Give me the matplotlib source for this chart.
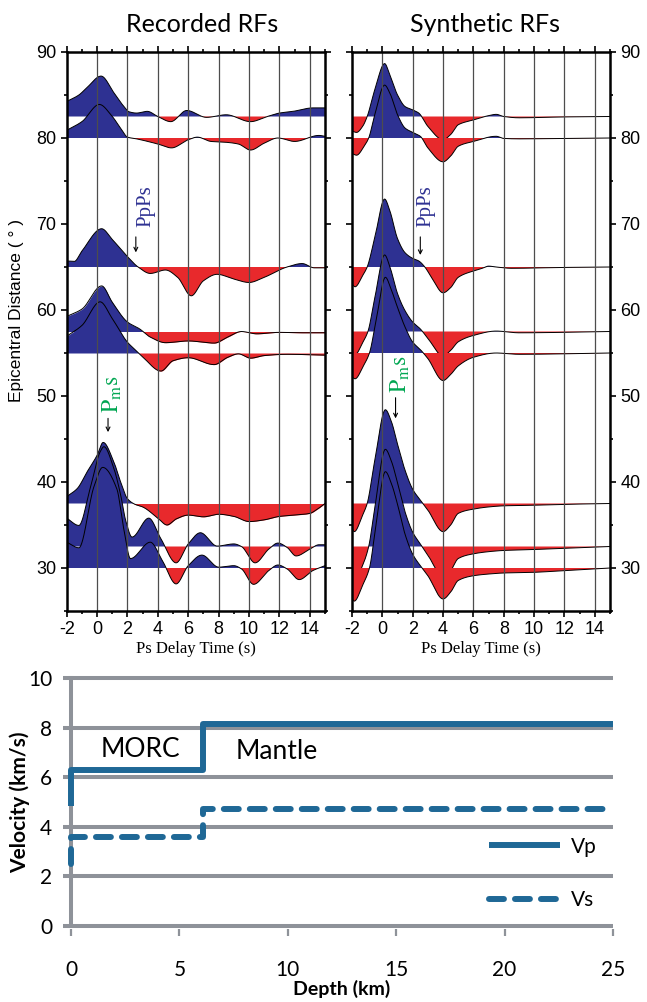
import numpy as np
import matplotlib.pyplot as plt
from matplotlib.ticker import MultipleLocator

# ---- receiver functions: key points (delay time s, amplitude in deg) ----
# recorded
rec_825_t = [-2, -1.2, -0.7, 0.26, 1.13, 1.68, 2.1, 2.6, 3.3, 4.0, 4.85, 5.9, 7.2, 8.5, 10.1, 11.2, 12.0, 12.9, 14.2, 15.0]
rec_825_a = [1.75, 2.5, 3.3, 4.7, 2.7, 1.35, 0.55, 0.4, 0.6, 0.0, -0.6, 0.7, -0.1, 0.2, -0.6, 0.0, 0.4, 0.6, 1.0, 1.0]
rec_80_t = [-2, -1, 0.15, 1.0, 1.6, 2.0, 2.6, 4.0, 4.9, 6.0, 6.6, 7.5, 8.5, 9.3, 10.1, 11.0, 11.9, 13.0, 14.6, 15.0]
rec_80_a = [0.9, 1.9, 3.9, 2.5, 1.0, 0.1, -0.1, -0.7, -1.15, -0.2, 0.1, -0.4, -0.5, -0.7, -1.4, -0.6, 0.0, -0.4, 0.3, 0.2]
rec_65_t = [-2, -1.5, -1.0, 0.3, 1.0, 2.0, 2.7, 3.5, 4.5, 5.3, 6.2, 7.0, 7.9, 9.0, 10.0, 11.0, 12.5, 13.5, 14.3, 15.0]
rec_65_a = [0.7, 0.65, 1.85, 4.45, 3.2, 1.2, 0.0, -0.75, -0.35, -1.2, -3.35, -1.6, -0.85, -1.4, -1.8, -1.2, 0.0, 0.4, -0.1, -0.1]
rec_575_t = [-2, -1, 0.3, 1.0, 2.0, 2.8, 3.5, 4.5, 6.0, 7.7, 8.6, 9.5, 10.5, 12.0, 13.5, 15.0]
rec_575_a = [1.75, 2.6, 5.3, 3.4, 1.1, 0.3, -0.65, -1.3, -1.1, -1.35, -0.65, 0.0, -0.27, -0.1, -0.15, -0.15]
rec_55_t = [-2, -1, 0.2, 1.0, 2.0, 2.5, 3.0, 4.2, 5.0, 6.0, 7.7, 8.6, 9.3, 10.1, 11.0, 12.5, 15.0]
rec_55_a = [1.95, 3.2, 5.95, 4.0, 1.25, 0.4, -0.45, -2.1, -0.9, -0.55, -1.35, -0.5, -0.1, -0.6, -0.3, -0.15, -0.25]
rec_375_t = [-2, -1.3, -0.65, 0.0, 0.4, 1.1, 1.55, 2.0, 2.5, 3.0, 4.0, 4.6, 5.2, 6.0, 7.0, 8.0, 9.0, 10.0, 11.0, 12.0, 13.0, 14.0, 14.5, 15.0]
rec_375_a = [0.8, 1.75, 3.7, 5.6, 7.1, 4.85, 2.5, 0.55, -0.1, -0.4, -1.7, -2.5, -1.8, -1.35, -1.55, -1.25, -1.5, -2.1, -1.9, -1.5, -1.35, -1.15, -0.65, 0.0]
rec_325_t = [-2, -1.2, -0.45, 0.2, 0.45, 1.1, 1.55, 1.9, 2.3, 3.4, 4.2, 5.2, 6.0, 6.8, 7.9, 9.0, 9.5, 10.4, 11.3, 11.9, 12.5, 13.1, 14.0, 14.6, 15.0]
rec_325_a = [3.3, 2.45, 6.8, 11.0, 11.6, 9.1, 6.0, 2.9, 1.1, 3.3, 0.9, -1.9, 0.3, 1.6, 0.05, 0.3, 0.0, -1.9, -0.3, 0.4, -0.1, -1.1, -0.3, 0.2, 0.2]
rec_30_t = [-2, -1.2, -0.2, 0.37, 1.3, 1.75, 2.2, 3.5, 4.3, 5.2, 6.0, 6.9, 8.0, 9.0, 9.5, 10.3, 11.3, 11.9, 12.5, 13.3, 14.2, 15.0]
rec_30_a = [3.0, 2.35, 9.5, 11.7, 9.2, 4.6, 1.1, 3.0, 0.85, -1.85, 0.27, 1.5, 0.1, 0.27, -0.1, -1.9, -0.3, 0.35, -0.1, -1.35, -0.3, 0.27]

# synthetic
syn_825_t = [-2, -1.7, -1.3, -1.0, -0.5, 0.15, 0.5, 1.0, 1.5, 2.0, 2.4, 3.0, 4.0, 4.5, 5.0, 6.0, 7.0, 7.5, 8.0, 9.0, 12.0, 15.0]
syn_825_a = [-1.7, -1.85, -1.15, 0.0, 3.1, 6.15, 4.8, 2.5, 1.15, 0.77, 0.4, -1.15, -2.7, -2.1, -0.96, -0.4, 0.1, 0.25, 0.0, -0.15, -0.05, 0.0]
syn_80_t = [-2, -1.7, -1.2, -0.9, -0.5, 0.15, 0.5, 1.0, 1.5, 2.0, 2.5, 3.0, 4.0, 4.5, 5.0, 6.0, 7.5, 8.0, 9.0, 12.0, 15.0]
syn_80_a = [-1.8, -2.0, -0.96, 0.0, 2.7, 6.15, 5.2, 2.7, 1.15, 0.65, 0.2, -1.15, -2.77, -2.1, -0.96, -0.4, 0.2, -0.05, -0.1, -0.05, 0.0]
syn_65_t = [-2, -1.8, -1.3, -1.0, -0.5, 0.15, 0.5, 1.0, 1.5, 2.0, 2.4, 2.8, 3.3, 4.0, 4.5, 5.0, 6.0, 6.5, 7.0, 7.5, 8.5, 12.0, 15.0]
syn_65_a = [-2.0, -2.3, -1.0, 0.0, 3.4, 7.9, 6.5, 3.3, 1.65, 1.0, 0.7, 0.0, -1.4, -3.0, -2.4, -1.2, -0.46, -0.2, 0.1, 0.0, -0.15, -0.05, 0.0]
syn_575_t = [-2, -1.8, -1.3, -0.95, -0.5, 0.15, 0.5, 1.0, 1.5, 2.0, 2.5, 3.0, 4.0, 4.5, 5.0, 6.0, 7.5, 9.0, 15.0]
syn_575_a = [-2.4, -2.7, -1.3, 0.0, 3.9, 8.9, 7.5, 4.4, 2.4, 1.1, 0.3, -0.8, -2.85, -2.2, -1.2, -0.46, 0.05, -0.15, 0.0]
syn_55_t = [-2, -1.8, -1.25, -0.85, -0.4, 0.2, 0.6, 1.0, 1.5, 2.0, 2.5, 3.0, 4.0, 4.5, 5.0, 6.0, 7.5, 9.0, 15.0]
syn_55_a = [-2.8, -3.0, -1.5, 0.0, 3.9, 8.8, 7.3, 5.3, 3.0, 1.27, 0.4, -0.65, -3.2, -2.5, -1.5, -0.5, 0.0, -0.15, 0.0]
syn_375_t = [-2, -1.85, -1.3, -1.0, -0.5, 0.2, 0.6, 1.0, 1.5, 2.0, 2.5, 3.0, 4.0, 4.5, 5.0, 6.0, 7.0, 8.0, 10.0, 12.0, 15.0]
syn_375_a = [-2.9, -3.27, -1.35, 0.0, 5.0, 10.9, 9.5, 6.9, 3.85, 1.65, 0.4, -0.77, -3.27, -2.5, -1.15, -0.65, -0.4, -0.27, -0.2, -0.1, 0.0]
syn_325_t = [-2, -1.8, -1.3, -0.9, -0.5, 0.2, 0.6, 1.0, 1.5, 2.0, 2.5, 3.0, 4.0, 4.5, 5.0, 6.0, 7.0, 8.0, 10.0, 12.0, 15.0]
syn_325_a = [-3.5, -3.8, -2.2, 0.0, 4.5, 11.3, 9.9, 7.4, 4.0, 1.65, 0.3, -1.0, -3.5, -2.8, -1.4, -0.85, -0.6, -0.46, -0.35, -0.2, 0.0]
syn_30_t = [-2, -1.85, -1.3, -0.85, -0.45, 0.2, 0.6, 1.0, 1.5, 2.0, 2.5, 3.0, 4.0, 4.5, 5.0, 6.0, 7.0, 8.0, 10.0, 12.0, 14.0, 15.0]
syn_30_a = [-3.6, -3.85, -2.0, 0.0, 4.6, 11.2, 9.8, 7.4, 3.9, 1.6, 0.27, -0.9, -3.6, -2.8, -1.45, -0.9, -0.7, -0.58, -0.5, -0.3, -0.1, 0.0]

baselines = [82.5, 80, 65, 57.5, 55, 37.5, 32.5, 30]
recorded = [(rec_825_t, rec_825_a), (rec_80_t, rec_80_a), (rec_65_t, rec_65_a), (rec_575_t, rec_575_a),
            (rec_55_t, rec_55_a), (rec_375_t, rec_375_a), (rec_325_t, rec_325_a), (rec_30_t, rec_30_a)]
synthetic = [(syn_825_t, syn_825_a), (syn_80_t, syn_80_a), (syn_65_t, syn_65_a), (syn_575_t, syn_575_a),
             (syn_55_t, syn_55_a), (syn_375_t, syn_375_a), (syn_325_t, syn_325_a), (syn_30_t, syn_30_a)]

# ---- velocity model ----
vp_depth = [0, 0, 6.1, 6.1, 25]
vp_vel = [4.85, 6.3, 6.3, 8.15, 8.15]
vs_depth = [0, 0, 6.1, 6.1, 25]
vs_vel = [2.5, 3.6, 3.6, 4.72, 4.72]

BLUE = '#2e3192'
RED = '#e8292c'
GREEN = '#00a651'
GRAY = '#8e9299'
VEL = '#1f6896'


def smooth(t, a, tt):
    """monotone cubic (pchip) through the picked points, only for drawing"""
    t = np.asarray(t, float)
    a = np.asarray(a, float)
    h = np.diff(t)
    d = np.diff(a) / h
    m = np.zeros_like(a)
    for k in range(1, len(t) - 1):
        if d[k - 1] * d[k] > 0:
            w1 = 2 * h[k] + h[k - 1]
            w2 = h[k] + 2 * h[k - 1]
            m[k] = (w1 + w2) / (w1 / d[k - 1] + w2 / d[k])
    m[0] = d[0]
    m[-1] = d[-1]
    i = np.clip(np.searchsorted(t, tt) - 1, 0, len(t) - 2)
    s = (tt - t[i]) / h[i]
    return ((2 * s**3 - 3 * s**2 + 1) * a[i] + (s**3 - 2 * s**2 + s) * h[i] * m[i]
            + (-2 * s**3 + 3 * s**2) * a[i + 1] + (s**3 - s**2) * h[i] * m[i + 1])


def rf_panel(ax, traces, right_labels):
    tt = np.linspace(-2, 15, 1500)
    for n, ((t, a), base) in enumerate(zip(traces, baselines)):
        yy = base + smooth(t, a, tt)
        z = 2 + n
        ax.fill_between(tt, base, yy, where=yy >= base, interpolate=True, color=BLUE, lw=0, zorder=z)
        ax.fill_between(tt, base, yy, where=yy <= base, interpolate=True, color=RED, lw=0, zorder=z)
        ax.plot(tt, yy, color='k', lw=0.7, zorder=z + 0.5)
    for x in range(0, 15, 2):
        ax.axvline(x, color='0.3', lw=0.9, zorder=40)
    ax.set_xlim(-2, 15)
    ax.set_ylim(25, 90)
    ax.xaxis.set_major_locator(MultipleLocator(2))
    ax.xaxis.set_minor_locator(MultipleLocator(1))
    ax.yaxis.set_major_locator(MultipleLocator(10))
    ax.yaxis.set_minor_locator(MultipleLocator(5))
    ax.tick_params(which='both', direction='out', top=True, right=True, width=1.2,
                   labelsize=13, pad=3)
    ax.tick_params(which='major', length=4.5)
    ax.tick_params(which='minor', length=2.5)
    if right_labels:
        ax.tick_params(axis='y', labelleft=False, labelright=True)
    for lab in ax.get_xticklabels() + ax.get_yticklabels():
        lab.set_fontfamily('Liberation Sans')
    for sp in ax.spines.values():
        sp.set_linewidth(1.8)
        sp.set_zorder(50)
    ax.set_xlabel('Ps Delay Time (s)', fontfamily='Liberation Serif', fontsize=12, labelpad=2)


def phase_label(ax, t_txt, y_txt, t_arr, y0, y1, txt, color, size):
    ax.text(t_txt, y_txt, txt, rotation=90, color=color, fontsize=size, ha='center', va='bottom',
            fontfamily='Liberation Serif', zorder=60)
    ax.annotate('', xy=(t_arr, y1), xytext=(t_arr, y0),
                arrowprops=dict(arrowstyle='->', lw=0.8, color='k', shrinkA=0, shrinkB=0,
                                mutation_scale=7), zorder=60)


plt.rcParams['mathtext.fontset'] = 'stix'
plt.rcParams['axes.unicode_minus'] = False
fig = plt.figure(figsize=(6.47, 10.02), dpi=100)
W, H = 647.0, 1002.0

ax1 = fig.add_axes([66.7 / W, 1 - 611 / H, (325 - 66.7) / W, (611 - 52) / H])
ax2 = fig.add_axes([352 / W, 1 - 611 / H, (610 - 352) / W, (611 - 52) / H])
rf_panel(ax1, recorded, False)
rf_panel(ax2, synthetic, True)

phase_label(ax1, 3.2, 69.6, 2.55, 68.5, 66.7, 'PpPs', BLUE, 15)
phase_label(ax2, 2.85, 69.6, 2.5, 68.5, 66.4, 'PpPs', BLUE, 15)
phase_label(ax1, 0.98, 48.0, 0.72, 47.4, 45.8, r'$\mathrm{P_{m}s}$', GREEN, 17)
phase_label(ax2, 1.2, 50.4, 0.87, 49.8, 47.4, r'$\mathrm{P_{m}s}$', GREEN, 17)

fig.text(202 / W, 1 - 24 / H, 'Recorded RFs', fontfamily='Lato', fontsize=18, ha='center', va='center')
fig.text(485 / W, 1 - 24 / H, 'Synthetic RFs', fontfamily='Lato', fontsize=18, ha='center', va='center')
fig.text(17 / W, 1 - 310 / H, 'Epicentral Distance ( \u00b0 )', fontfamily='Liberation Sans',
         fontsize=12.5, rotation=90, ha='center', va='center')

# ---- velocity profile ----
ax3 = fig.add_axes([71 / W, 1 - 929 / H, (613 - 71) / W, (929 - 675) / H])
ax3.set_xlim(0, 25)
ax3.set_ylim(-0.12, 10.12)
ax3.set_yticks(range(0, 11, 2))
ax3.set_xticks(range(0, 26, 5))
ax3.grid(axis='y', color=GRAY, lw=2.9, zorder=1)
ax3.set_axisbelow(True)
for side in ['top', 'right', 'bottom']:
    ax3.spines[side].set_visible(False)
ax3.spines['left'].set_color(GRAY)
ax3.spines['left'].set_linewidth(2.9)
ax3.spines['left'].set_bounds(0, 10)
ax3.tick_params(axis='y', length=5.5, width=2.9, color=GRAY, pad=8, labelsize=15)
ax3.tick_params(axis='x', length=5, width=1.6, color=GRAY, pad=17, labelsize=15)
for lab in ax3.get_xticklabels() + ax3.get_yticklabels():
    lab.set_fontfamily('Lato')

ax3.plot(vp_depth, vp_vel, color=VEL, lw=4.3, solid_capstyle='butt', clip_on=False, zorder=3, label='Vp')
ax3.plot(vs_depth, vs_vel, color=VEL, lw=4.3, dashes=(2.5, 1.85), dash_capstyle='round',
         clip_on=False, zorder=3, label='Vs')
ax3.text(3.2, 7.1, 'MORC', fontfamily='Lato', fontsize=19, ha='center', va='center')
ax3.text(9.5, 7.05, 'Mantle', fontfamily='Lato', fontsize=19, ha='center', va='center')
leg = ax3.legend(loc='center left', bbox_to_anchor=(19.3, 2.12), bbox_transform=ax3.transData,
                 frameon=False, handlelength=3.4, handletextpad=0.5, labelspacing=1.6,
                 borderpad=0, borderaxespad=0, prop={'family': 'Lato', 'size': 15})
ax3.set_ylabel('Velocity (km/s)', fontfamily='Lato', fontweight='bold', fontsize=15)
ax3.yaxis.set_label_coords(-0.075, 0.5)
ax3.set_xlabel('Depth (km)', fontfamily='Lato', fontweight='bold', fontsize=14, labelpad=0)

fig.savefig('out.png', dpi=100)
